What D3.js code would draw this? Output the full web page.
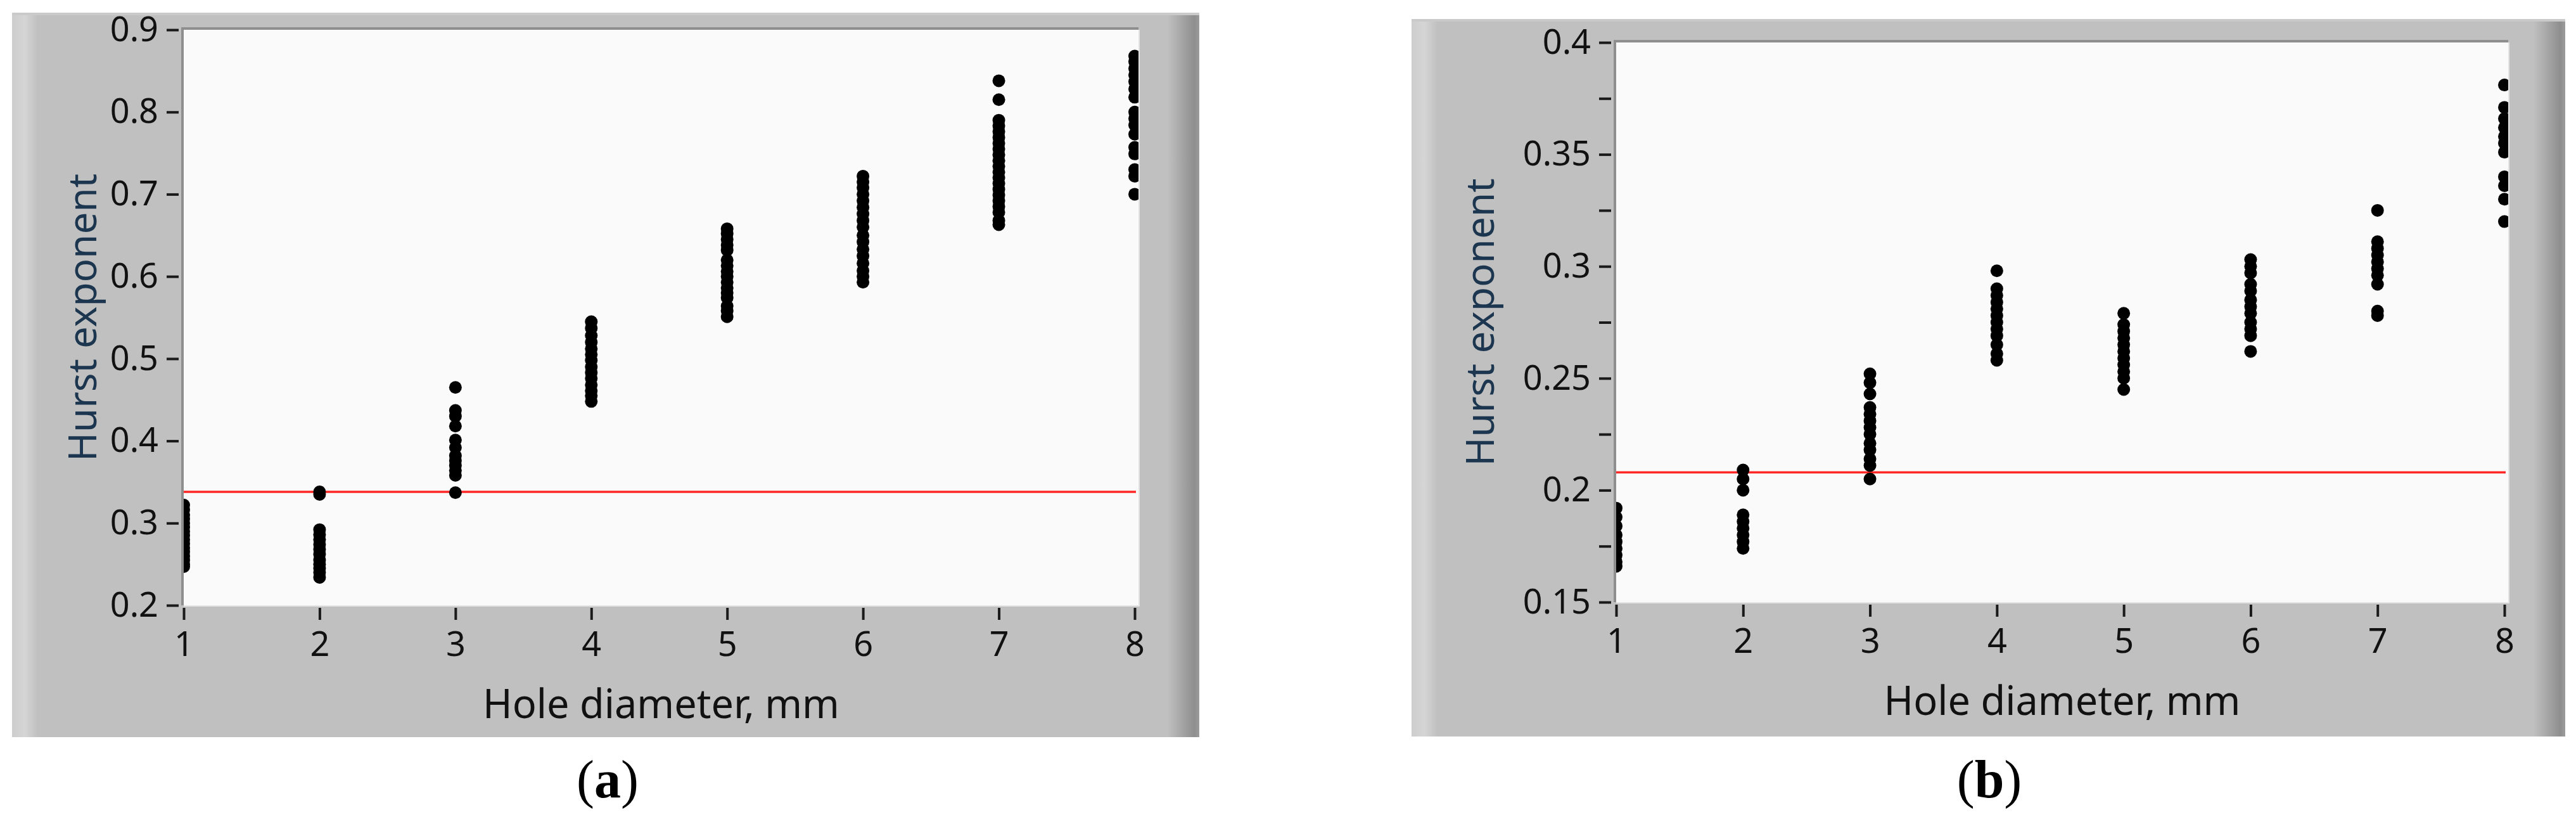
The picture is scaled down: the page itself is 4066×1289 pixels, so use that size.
<!DOCTYPE html>
<html>
<head>
<meta charset="utf-8">
<script src="https://cdn.jsdelivr.net/npm/d3@7"></script>
<style>
    body { margin: 0; background: #fff; }
    svg { display: block; }
</style>
</head>
<body>
<svg id="fig" width="4066" height="1289"></svg>
<script>
// x categories: hole diameter, mm
var diameters = [1, 2, 3, 4, 5, 6, 7, 8];

// panel (a): Hurst exponent values, one list per diameter
var hurstA = [
    [0.322, 0.316, 0.31, 0.305, 0.3, 0.295, 0.29, 0.285, 0.28, 0.275, 0.27, 0.265, 0.26, 0.255, 0.25, 0.247],
    [0.338, 0.335, 0.292, 0.286, 0.28, 0.274, 0.268, 0.262, 0.255, 0.25, 0.245, 0.24, 0.234],
    [0.465, 0.437, 0.43, 0.418, 0.401, 0.392, 0.382, 0.376, 0.37, 0.364, 0.358, 0.337],
    [0.545, 0.537, 0.528, 0.52, 0.512, 0.505, 0.498, 0.49, 0.483, 0.476, 0.468, 0.461, 0.455, 0.448],
    [0.658, 0.652, 0.645, 0.638, 0.632, 0.62, 0.613, 0.606, 0.6, 0.593, 0.586, 0.58, 0.574, 0.564, 0.558, 0.551],
    [0.722, 0.715, 0.708, 0.7, 0.692, 0.684, 0.676, 0.668, 0.66, 0.65, 0.642, 0.633, 0.625, 0.616, 0.607, 0.6, 0.593],
    [0.838, 0.815, 0.79, 0.783, 0.776, 0.769, 0.762, 0.755, 0.748, 0.741, 0.734, 0.727, 0.72, 0.713, 0.706, 0.699, 0.692, 0.685, 0.678, 0.668, 0.663],
    [0.868, 0.861, 0.853, 0.845, 0.837, 0.828, 0.818, 0.8, 0.792, 0.784, 0.773, 0.757, 0.749, 0.73, 0.722, 0.7]
];
var thresholdA = 0.338;
var yTicksA = [0.2, 0.3, 0.4, 0.5, 0.6, 0.7, 0.8, 0.9];

// panel (b)
var hurstB = [
    [0.192, 0.188, 0.184, 0.18, 0.177, 0.174, 0.171, 0.168, 0.166],
    [0.209, 0.205, 0.2, 0.189, 0.186, 0.183, 0.18, 0.177, 0.174],
    [0.252, 0.248, 0.243, 0.237, 0.234, 0.231, 0.228, 0.225, 0.221, 0.218, 0.214, 0.211, 0.205],
    [0.298, 0.29, 0.287, 0.284, 0.281, 0.278, 0.275, 0.272, 0.269, 0.265, 0.261, 0.258],
    [0.279, 0.274, 0.271, 0.268, 0.265, 0.262, 0.259, 0.256, 0.253, 0.25, 0.245],
    [0.303, 0.3, 0.297, 0.292, 0.289, 0.285, 0.282, 0.279, 0.275, 0.272, 0.269, 0.262],
    [0.325, 0.311, 0.308, 0.305, 0.302, 0.299, 0.296, 0.292, 0.28, 0.278],
    [0.381, 0.371, 0.366, 0.362, 0.358, 0.355, 0.351, 0.34, 0.336, 0.33, 0.32]
];
var thresholdB = 0.208;
var yTicksB = [0.15, 0.2, 0.25, 0.3, 0.35, 0.4];
var yMinorB = [0.175, 0.225, 0.275, 0.325, 0.375];

var xLabel = 'Hole diameter, mm';
var yLabel = 'Hurst exponent';

var svg = d3.select('#fig');
var defs = svg.append('defs');

// bevel shading on the panel edges
var gl = defs.append('linearGradient').attr('id', 'edgeLeft');
gl.append('stop').attr('offset', 0).attr('stop-color', '#cdcdcd');
gl.append('stop').attr('offset', 0.5).attr('stop-color', '#d5d5d5');
gl.append('stop').attr('offset', 1).attr('stop-color', '#c1c1c1');
var gr = defs.append('linearGradient').attr('id', 'edgeRight');
gr.append('stop').attr('offset', 0).attr('stop-color', '#c0c0c0');
gr.append('stop').attr('offset', 0.85).attr('stop-color', '#8e8e8e');
gr.append('stop').attr('offset', 1).attr('stop-color', '#9c9c9c');

function drawPanel(cfg) {
    var g = svg.append('g');
    var b = cfg.box, p = cfg.plot;

    // panel background
    g.append('rect')
        .attr('x', b.x).attr('y', b.y)
        .attr('width', b.w).attr('height', b.h)
        .attr('fill', '#c0c0c0');
    g.append('rect')
        .attr('x', b.x).attr('y', b.y)
        .attr('width', 40).attr('height', b.h)
        .attr('fill', 'url(#edgeLeft)');
    g.append('rect')
        .attr('x', b.x + b.w - 50).attr('y', b.y)
        .attr('width', 50).attr('height', b.h)
        .attr('fill', 'url(#edgeRight)');
    g.append('rect')
        .attr('x', b.x).attr('y', b.y)
        .attr('width', b.w).attr('height', 4)
        .attr('fill', '#cacaca');

    var x = d3.scaleLinear().domain([1, 8]).range([p.left, p.right - 6]);
    var y = d3.scaleLinear().domain(cfg.yDomain).range([p.bottom, p.top]);

    // plot area
    g.append('rect')
        .attr('x', p.left).attr('y', p.top)
        .attr('width', p.right - p.left).attr('height', p.bottom - p.top)
        .attr('fill', '#fafafa');
    g.append('path')
        .attr('d', 'M' + (p.right + 1) + ',' + p.top + 'V' + (p.bottom + 1) + 'H' + p.left)
        .attr('fill', 'none').attr('stroke', '#e4e4e4').attr('stroke-width', 2);
    g.append('path')
        .attr('d', 'M' + (p.left - 2) + ',' + p.bottom + 'V' + (p.top - 2) + 'H' + p.right)
        .attr('fill', 'none').attr('stroke', '#8e8e8e').attr('stroke-width', 4);

    defs.append('clipPath').attr('id', 'clip-' + cfg.id)
        .append('rect')
        .attr('x', p.left).attr('y', p.top)
        .attr('width', p.right - p.left).attr('height', p.bottom - p.top);

    // threshold line
    g.append('line')
        .attr('x1', p.left).attr('x2', p.right - 4)
        .attr('y1', y(cfg.threshold)).attr('y2', y(cfg.threshold))
        .attr('stroke', '#ff2626').attr('stroke-width', 3.5);

    // points
    var pts = [];
    cfg.values.forEach(function(vals, i) {
        vals.forEach(function(v) { pts.push([diameters[i], v]); });
    });
    g.append('g')
        .attr('clip-path', 'url(#clip-' + cfg.id + ')')
        .selectAll('circle')
        .data(pts)
        .enter()
        .append('circle')
        .attr('cx', function(d) { return x(d[0]); })
        .attr('cy', function(d) { return y(d[1]); })
        .attr('r', 10)
        .attr('fill', '#000');

    // axes
    var yAxis = g.append('g')
        .attr('transform', 'translate(' + (p.left - 8) + ',0)')
        .call(d3.axisLeft(y).tickValues(cfg.yTicks).tickSize(19).tickPadding(13)
            .tickFormat(function(d) { return String(d); }));
    styleAxis(yAxis);
    if (cfg.yMinor) {
        var yMinor = g.append('g')
            .attr('transform', 'translate(' + (p.left - 8) + ',0)')
            .call(d3.axisLeft(y).tickValues(cfg.yMinor).tickSize(19).tickFormat(''));
        styleAxis(yMinor);
    }
    var xAxis = g.append('g')
        .attr('transform', 'translate(0,' + (p.bottom + 4) + ')')
        .call(d3.axisBottom(x).tickValues(diameters).tickSize(19).tickPadding(19)
            .tickFormat(d3.format('d')));
    styleAxis(xAxis);

    // axis titles
    g.append('text')
        .attr('transform', 'translate(' + cfg.yTitleX + ',' + ((p.top + p.bottom) / 2) + ') rotate(-90)')
        .attr('text-anchor', 'middle')
        .style('font-family', '"Noto Sans", sans-serif')
        .style('font-size', '62px')
        .attr('fill', '#1c3650')
        .text(yLabel);
    g.append('text')
        .attr('x', (p.left + p.right) / 2)
        .attr('y', cfg.xTitleY)
        .attr('text-anchor', 'middle')
        .style('font-family', '"Noto Sans", sans-serif')
        .style('font-size', '63px')
        .attr('fill', '#111')
        .text(xLabel);

    // caption under the panel
    var cap = svg.append('text')
        .attr('x', cfg.capX)
        .attr('y', 1258)
        .attr('text-anchor', 'middle')
        .style('font-family', '"Liberation Serif", serif')
        .style('font-size', '84px')
        .attr('fill', '#000');
    cap.append('tspan').text('(');
    cap.append('tspan').style('font-weight', 'bold').text(cfg.caption);
    cap.append('tspan').text(')');
}

function styleAxis(ax) {
    ax.select('.domain').remove();
    ax.selectAll('.tick line').attr('stroke', '#1a1a1a').attr('stroke-width', 4);
    ax.selectAll('.tick text')
        .style('font-family', '"Noto Sans", sans-serif')
        .style('font-size', '54px')
        .attr('fill', '#111');
}

drawPanel({
    id: 'a',
    box: {x: 19, y: 20, w: 1874, h: 1143},
    plot: {left: 290, right: 1797, top: 47, bottom: 955},
    yDomain: [0.2, 0.9],
    yTicks: yTicksA,
    values: hurstA,
    threshold: thresholdA,
    yTitleX: 152,
    xTitleY: 1133,
    capX: 959,
    caption: 'a'
});

drawPanel({
    id: 'b',
    box: {x: 2228, y: 30, w: 1821, h: 1132},
    plot: {left: 2551, right: 3959, top: 67, bottom: 950},
    yDomain: [0.15, 0.4],
    yTicks: yTicksB,
    yMinor: yMinorB,
    values: hurstB,
    threshold: thresholdB,
    yTitleX: 2358,
    xTitleY: 1128,
    capX: 3140,
    caption: 'b'
});
</script>
</body>
</html>
